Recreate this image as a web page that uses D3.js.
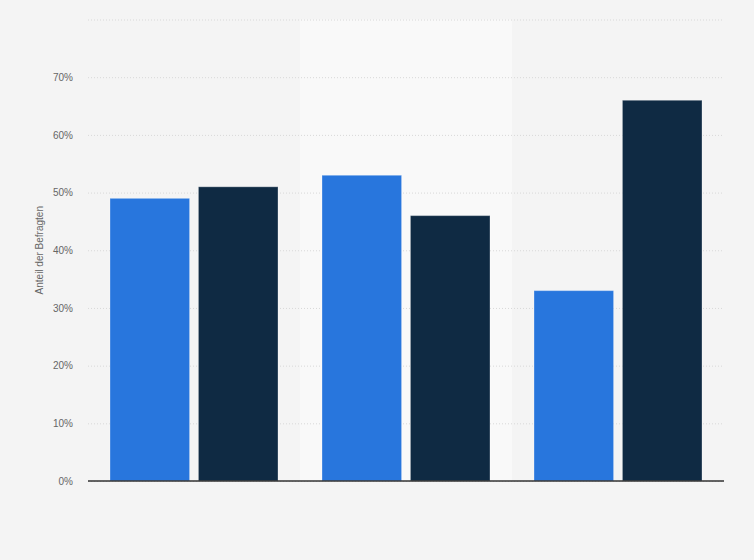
<!DOCTYPE html>
<html>
<head>
<meta charset="utf-8">
<script src="https://cdn.jsdelivr.net/npm/d3@7"></script>
<style>
  html, body { margin: 0; padding: 0; background: #f4f4f4; }
  svg { display: block; font-family: "Liberation Sans", Arial, sans-serif; }
</style>
</head>
<body>
<svg id="chart" width="754" height="560"></svg>
<script>
const categories = ["Gruppe 1", "Gruppe 2", "Gruppe 3"];
const seriesNames = ["Serie A", "Serie B"];
const seriesA = [49, 53, 33];
const seriesB = [51, 46, 66];
const yTicks = [0, 10, 20, 30, 40, 50, 60, 70, 80];
const yTitle = "Anteil der Befragten";
const colors = ["#2876dd", "#0f2a43"];

const svg = d3.select("#chart");
const W = 754, H = 560;
const m = { left: 88, right: 30, top: 19.5, bottom: 79 };
const innerW = W - m.left - m.right;
const innerH = H - m.top - m.bottom;

svg.append("rect").attr("width", W).attr("height", H).attr("fill", "#f4f4f4");

const g = svg.append("g").attr("transform", `translate(${m.left},${m.top})`);

const x0 = d3.scaleBand().domain(categories).range([0, innerW]).paddingInner(0).paddingOuter(0);
const x1 = d3.scaleBand().domain(seriesNames).range([22, x0.bandwidth() - 22]).paddingInner(0.1).paddingOuter(0);
const y = d3.scaleLinear().domain([0, 80]).range([innerH, 0]);

// alternating band (middle)
g.selectAll("rect.band").data(categories.filter((d, i) => i % 2 === 1)).enter()
  .append("rect").attr("class", "band")
  .attr("x", d => x0(d)).attr("y", 0)
  .attr("width", x0.bandwidth()).attr("height", innerH)
  .attr("fill", "#f9f9f9");

// gridlines
const yAxis = d3.axisLeft(y).tickValues(yTicks).tickSize(-innerW).tickPadding(15)
  .tickFormat(d => d === 80 ? "" : d + "%");
const ya = g.append("g").call(yAxis);
ya.select(".domain").remove();
ya.selectAll(".tick line").attr("stroke", "#d8d8d8").attr("stroke-dasharray", "1,2").attr("stroke-width", 1);
ya.selectAll(".tick text").attr("fill", "#666").attr("font-size", "10px").attr("x", -15);

// bars
const data = categories.map((c, i) => ({ c, vals: [seriesA[i], seriesB[i]] }));
const grp = g.selectAll("g.grp").data(data).enter().append("g")
  .attr("transform", d => `translate(${x0(d.c)},0)`);
grp.selectAll("rect").data(d => d.vals.map((v, j) => ({ v, s: seriesNames[j], j }))).enter()
  .append("rect")
  .attr("x", d => x1(d.s))
  .attr("y", d => y(d.v))
  .attr("width", x1.bandwidth())
  .attr("height", d => innerH - y(d.v))
  .attr("fill", d => colors[d.j])
  .attr("stroke", "rgba(255,255,255,0.3)")
  .attr("stroke-width", 1);

// x axis line
g.append("line").attr("x1", 0).attr("x2", innerW).attr("y1", innerH).attr("y2", innerH)
  .attr("stroke", "#333").attr("stroke-width", 1.5);

// y title
svg.append("text")
  .attr("transform", `translate(43,${m.top + innerH / 2}) rotate(-90)`)
  .attr("text-anchor", "middle")
  .attr("fill", "#666").attr("font-size", "10px")
  .text(yTitle);
</script>
</body>
</html>
